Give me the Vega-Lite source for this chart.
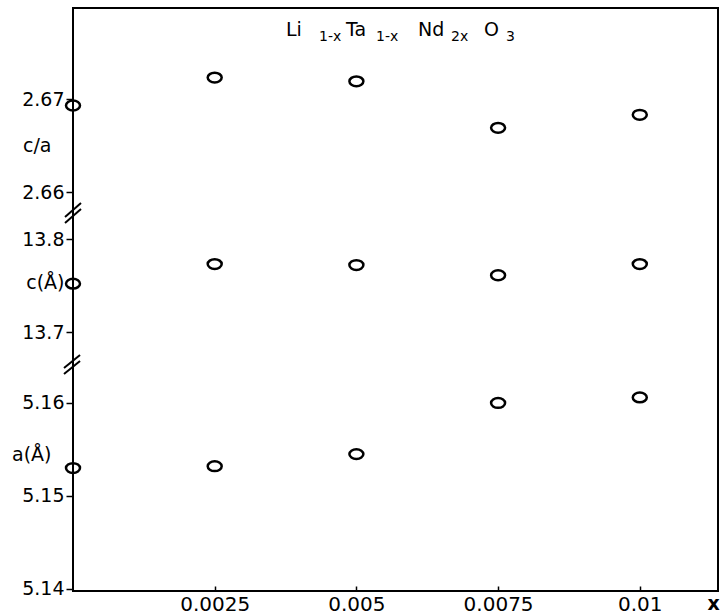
{
  "$schema": "https://vega.github.io/schema/vega-lite/v6.json",
  "width": 645,
  "height": 583,
  "padding": {"left": 11, "top": 8, "right": 2, "bottom": 5},
  "background": "white",
  "config": {
    "view": {"stroke": "black", "strokeWidth": 2},
    "font": "DejaVu Sans",
    "text": {"font": "DejaVu Sans", "color": "black"},
    "axis": {
      "domain": false,
      "grid": false,
      "tickColor": "black",
      "tickWidth": 1.5,
      "labelColor": "black",
      "labelFont": "DejaVu Sans",
      "labelFontSize": 19,
      "titleColor": "black"
    }
  },
  "datasets": {
    "ca": [
      {"x": 0, "value": 2.6693},
      {"x": 0.0025, "value": 2.6723},
      {"x": 0.005, "value": 2.6719},
      {"x": 0.0075, "value": 2.6669},
      {"x": 0.01, "value": 2.6683}
    ],
    "c": [
      {"x": 0, "value": 13.752},
      {"x": 0.0025, "value": 13.773},
      {"x": 0.005, "value": 13.772},
      {"x": 0.0075, "value": 13.761},
      {"x": 0.01, "value": 13.773}
    ],
    "a": [
      {"x": 0, "value": 5.1530},
      {"x": 0.0025, "value": 5.1532},
      {"x": 0.005, "value": 5.1545},
      {"x": 0.0075, "value": 5.1600},
      {"x": 0.01, "value": 5.1606}
    ],
    "one": [{"k": 1}]
  },
  "resolve": {"scale": {"y": "independent"}, "axis": {"y": "independent"}},
  "layer": [
    {
      "data": {"name": "ca"},
      "mark": {"type": "point", "shape": "M -1 0 A 1 0.7 0 1 1 1 0 A 1 0.7 0 1 1 -1 0 Z", "size": 196, "filled": false, "stroke": "black", "strokeWidth": 2.5, "opacity": 1},
      "encoding": {
        "x": {
          "field": "x",
          "type": "quantitative",
          "scale": {"domain": [0, 0.01138], "nice": false, "zero": false},
          "axis": {
            "values": [0.0025, 0.005, 0.0075, 0.01],
            "format": ".4~f",
            "tickSize": -5,
            "labelPadding": 8,
            "labelFontSize": 20,
            "title": "x",
            "titleFontSize": 19,
            "titleFontWeight": "bold",
            "titleX": 640,
            "titleY": 18,
            "titleBaseline": "alphabetic",
            "titleAlign": "center"
          }
        },
        "y": {
          "field": "value", "type": "quantitative",
          "scale": {"domain": [2.617097, 2.679785], "nice": false, "zero": false},
          "axis": {"orient": "left", "title": null, "values": [2.66, 2.67], "format": ".2f", "tickSize": 7, "labelPadding": 2}
        }
      }
    },
    {
      "data": {"name": "c"},
      "mark": {"type": "point", "shape": "M -1 0 A 1 0.7 0 1 1 1 0 A 1 0.7 0 1 1 -1 0 Z", "size": 196, "filled": false, "stroke": "black", "strokeWidth": 2.5, "opacity": 1},
      "encoding": {
        "x": {"field": "x", "type": "quantitative", "scale": {"domain": [0, 0.01138], "nice": false, "zero": false}},
        "y": {
          "field": "value", "type": "quantitative",
          "scale": {"domain": [13.42151, 14.04839], "nice": false, "zero": false},
          "axis": {
            "orient": "left", "title": null, "values": [13.7, 13.753, 13.8], "tickSize": 7, "labelPadding": 2,
            "labelExpr": "abs(datum.value - 13.753) < 0.0001 ? 'c(Å)' : format(datum.value, '.1f')",
            "tickOpacity": {"condition": {"test": "abs(datum.value - 13.753) < 0.0001", "value": 0}, "value": 1}
          }
        }
      }
    },
    {
      "data": {"name": "a"},
      "mark": {"type": "point", "shape": "M -1 0 A 1 0.7 0 1 1 1 0 A 1 0.7 0 1 1 -1 0 Z", "size": 196, "filled": false, "stroke": "black", "strokeWidth": 2.5, "opacity": 1},
      "encoding": {
        "x": {"field": "x", "type": "quantitative", "scale": {"domain": [0, 0.01138], "nice": false, "zero": false}},
        "y": {
          "field": "value", "type": "quantitative",
          "scale": {"domain": [5.13978, 5.202473], "nice": false, "zero": false},
          "axis": {"orient": "left", "title": null, "values": [5.14, 5.15, 5.16], "format": ".2f", "tickSize": 7, "labelPadding": 2}
        }
      }
    },
    {
      "data": {"name": "one"},
      "mark": {"type": "text", "text": "Li", "fontSize": 19, "align": "left", "baseline": "alphabetic"},
      "encoding": {
        "x": {"datum": 0.003758, "type": "quantitative", "scale": {"domain": [0, 0.01138], "nice": false, "zero": false}},
        "y": {
          "datum": 2.676774, "type": "quantitative",
          "scale": {"domain": [2.617097, 2.679785], "nice": false, "zero": false},
          "axis": {"orient": "left", "title": null, "values": [2.665], "labelExpr": "'c/a'", "ticks": false, "tickSize": 0, "labelPadding": 22}
        }
      }
    },
    {
      "data": {"name": "one"},
      "mark": {"type": "text", "text": "1-x", "fontSize": 14, "align": "left", "baseline": "alphabetic"},
      "encoding": {
        "x": {"datum": 0.004340, "type": "quantitative", "scale": {"domain": [0, 0.01138], "nice": false, "zero": false}},
        "y": {"datum": 2.676237, "type": "quantitative", "scale": {"domain": [2.617097, 2.679785], "nice": false, "zero": false}, "axis": null}
      }
    },
    {
      "data": {"name": "one"},
      "mark": {"type": "text", "text": "Ta", "fontSize": 19, "align": "left", "baseline": "alphabetic"},
      "encoding": {
        "x": {"datum": 0.004817, "type": "quantitative", "scale": {"domain": [0, 0.01138], "nice": false, "zero": false}},
        "y": {"datum": 2.676774, "type": "quantitative", "scale": {"domain": [2.617097, 2.679785], "nice": false, "zero": false}, "axis": null}
      }
    },
    {
      "data": {"name": "one"},
      "mark": {"type": "text", "text": "1-x", "fontSize": 14, "align": "left", "baseline": "alphabetic"},
      "encoding": {
        "x": {"datum": 0.005346, "type": "quantitative", "scale": {"domain": [0, 0.01138], "nice": false, "zero": false}},
        "y": {"datum": 2.676237, "type": "quantitative", "scale": {"domain": [2.617097, 2.679785], "nice": false, "zero": false}, "axis": null}
      }
    },
    {
      "data": {"name": "one"},
      "mark": {"type": "text", "text": "Nd", "fontSize": 19, "align": "left", "baseline": "alphabetic"},
      "encoding": {
        "x": {"datum": 0.006087, "type": "quantitative", "scale": {"domain": [0, 0.01138], "nice": false, "zero": false}},
        "y": {"datum": 2.676774, "type": "quantitative", "scale": {"domain": [2.617097, 2.679785], "nice": false, "zero": false}, "axis": null}
      }
    },
    {
      "data": {"name": "one"},
      "mark": {"type": "text", "text": "2x", "fontSize": 14, "align": "left", "baseline": "alphabetic"},
      "encoding": {
        "x": {"datum": 0.006669, "type": "quantitative", "scale": {"domain": [0, 0.01138], "nice": false, "zero": false}},
        "y": {"datum": 2.676237, "type": "quantitative", "scale": {"domain": [2.617097, 2.679785], "nice": false, "zero": false}, "axis": null}
      }
    },
    {
      "data": {"name": "one"},
      "mark": {"type": "text", "text": "O", "fontSize": 19, "align": "left", "baseline": "alphabetic"},
      "encoding": {
        "x": {"datum": 0.007252, "type": "quantitative", "scale": {"domain": [0, 0.01138], "nice": false, "zero": false}},
        "y": {"datum": 2.676774, "type": "quantitative", "scale": {"domain": [2.617097, 2.679785], "nice": false, "zero": false}, "axis": null}
      }
    },
    {
      "data": {"name": "one"},
      "mark": {"type": "text", "text": "3", "fontSize": 14, "align": "left", "baseline": "alphabetic"},
      "encoding": {
        "x": {"datum": 0.007640, "type": "quantitative", "scale": {"domain": [0, 0.01138], "nice": false, "zero": false}},
        "y": {"datum": 2.676237, "type": "quantitative", "scale": {"domain": [2.617097, 2.679785], "nice": false, "zero": false}, "axis": null}
      }
    },
    {
      "data": {"name": "one"},
      "mark": {"type": "rule", "color": "black", "strokeWidth": 2},
      "encoding": {
        "x": {"datum": -0.000141, "type": "quantitative", "scale": {"domain": [0, 0.01138], "nice": false, "zero": false}},
        "x2": {"datum": 0.000141},
        "y": {"datum": 13.81721, "type": "quantitative", "scale": {"domain": [13.42151, 14.04839], "nice": false, "zero": false}, "axis": null},
        "y2": {"datum": 13.83226}
      }
    },
    {
      "data": {"name": "one"},
      "mark": {"type": "rule", "color": "black", "strokeWidth": 2},
      "encoding": {
        "x": {"datum": -0.000141, "type": "quantitative", "scale": {"domain": [0, 0.01138], "nice": false, "zero": false}},
        "x2": {"datum": 0.000141},
        "y": {"datum": 13.82366, "type": "quantitative", "scale": {"domain": [13.42151, 14.04839], "nice": false, "zero": false}, "axis": null},
        "y2": {"datum": 13.83871}
      }
    },
    {
      "data": {"name": "one"},
      "mark": {"type": "rule", "color": "black", "strokeWidth": 2},
      "encoding": {
        "x": {"datum": -0.000159, "type": "quantitative", "scale": {"domain": [0, 0.01138], "nice": false, "zero": false}},
        "x2": {"datum": 0.000124},
        "y": {
          "datum": 5.163118, "type": "quantitative",
          "scale": {"domain": [5.13978, 5.202473], "nice": false, "zero": false},
          "axis": {"orient": "left", "title": null, "values": [5.1545], "labelExpr": "'a(Å)'", "ticks": false, "tickSize": 0, "labelPadding": 22}
        },
        "y2": {"datum": 5.164516}
      }
    },
    {
      "data": {"name": "one"},
      "mark": {"type": "rule", "color": "black", "strokeWidth": 2},
      "encoding": {
        "x": {"datum": -0.000159, "type": "quantitative", "scale": {"domain": [0, 0.01138], "nice": false, "zero": false}},
        "x2": {"datum": 0.000124},
        "y": {"datum": 5.163763, "type": "quantitative", "scale": {"domain": [5.13978, 5.202473], "nice": false, "zero": false}, "axis": null},
        "y2": {"datum": 5.165161}
      }
    }
  ]
}
